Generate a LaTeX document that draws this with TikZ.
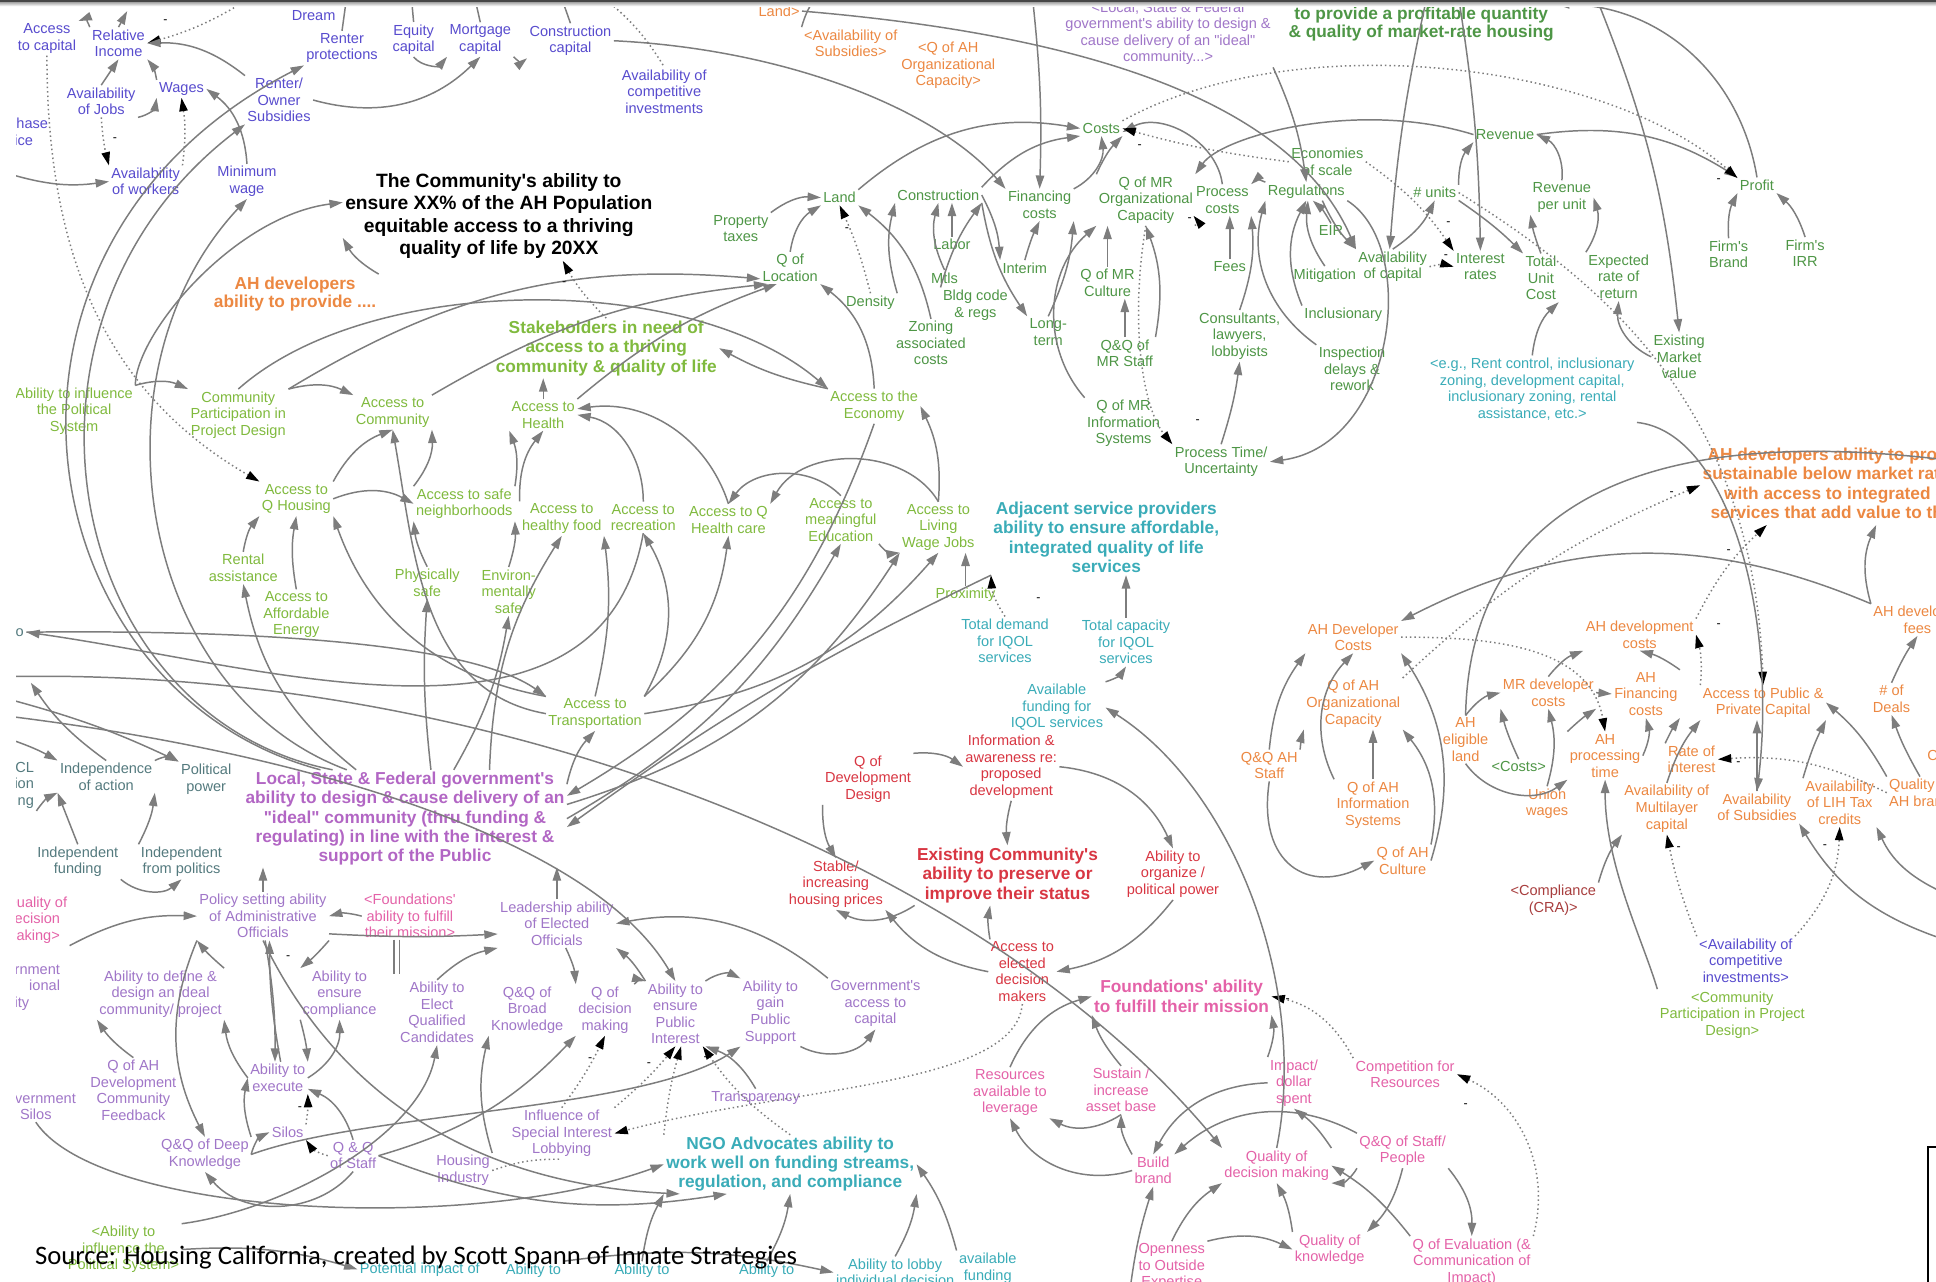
\documentclass[tikz,border=0pt]{standalone}
\usepackage{fontspec}
\setmainfont{Liberation Sans}[Ligatures=TeXOff]
\newfontfamily\srcfont{Carlito}
\usetikzlibrary{arrows.meta}
\definecolor{cblue}{RGB}{88,76,206}
\definecolor{cgreen}{RGB}{78,150,70}
\definecolor{clgreen}{RGB}{128,186,62}
\definecolor{corange}{RGB}{236,136,66}
\definecolor{cteal}{RGB}{58,172,184}
\definecolor{cpurple}{RGB}{178,102,196}
\definecolor{cviolet}{RGB}{160,118,200}
\definecolor{cred}{RGB}{216,54,66}
\definecolor{cpink}{RGB}{228,98,168}
\definecolor{cslate}{RGB}{84,122,126}
\definecolor{cbrown}{RGB}{168,62,62}
\definecolor{cline}{RGB}{125,125,125}
\tikzset{
  lab/.style={align=center, inner sep=0.8pt, font=\fontsize{5.9}{6.7}\selectfont},
  head/.style={align=center, inner sep=0.8pt, font=\bfseries\fontsize{7}{7.9}\selectfont},
  tB/.style={lab, text=cblue}, tG/.style={lab, text=cgreen}, tL/.style={lab, text=clgreen},
  tO/.style={lab, text=corange}, tT/.style={lab, text=cteal}, tV/.style={lab, text=cviolet},
  tR/.style={lab, text=cred}, tP/.style={lab, text=cpink}, tS/.style={lab, text=cslate},
  tBr/.style={lab, text=cbrown},
  hK/.style={align=center, inner sep=0.8pt, font=\bfseries\fontsize{7.8}{9}\selectfont, text=black},
  hG/.style={head, text=cgreen, font=\bfseries\fontsize{7}{7.5}\selectfont},
  hL/.style={head, text=clgreen}, hO/.style={head, text=corange}, hT/.style={head, text=cteal},
  hV/.style={head, text=cpurple}, hR/.style={head, text=cred}, hP/.style={head, text=cpink},
  ar/.style={draw=cline, line width=0.6pt, -{Triangle[length=5.4pt,width=3.4pt]}},
  dar/.style={draw=cline, line width=0.6pt, dash pattern=on 0.6pt off 1.2pt,
              -{Triangle[length=5.4pt,width=3.4pt,color=black,fill=black]}},
  ln/.style={draw=cline, line width=0.6pt},
  dln/.style={draw=cline, line width=0.6pt, dash pattern=on 0.6pt off 1.2pt},
  mn/.style={inner sep=0pt, font=\fontsize{5}{5}\selectfont, text=black},
}
\begin{document}
\begin{tikzpicture}[x=0.5pt,y=-0.5pt]
\useasboundingbox (0,0) rectangle (1568,1038);
\fill[white] (0,0) rectangle (1568,1038);
\begin{scope}
\clip (13,0) rectangle (1568,1038);

% ---------- household economics (blue)
\node[tB] (acc) at (38,31) {Access\\to capital};
\node[tB] (rel) at (96,35) {Relative\\Income};
\node[tB] (dream) at (254,6) {American\\Dream};
\node[tB] (rprot) at (277,39) {Renter\\protections};
\node[tB] (eq) at (335,32) {Equity\\capital};
\node[tB] (mort) at (389,32) {Mortgage\\capital};
\node[tB] (ccap) at (462,33) {Construction\\capital};
\node[tB] (acomp) at (538,74) {Availability of\\competitive\\investments};
\node[tB] (ajobs) at (82,82) {Availability\\of Jobs};
\node[tB] (wages) at (147,72) {Wages};
\node[tB] (rsub) at (226,81) {Renter/\\Owner\\Subsidies};
\node[tB] (hase) at (14,108) {Purchase\\price};
\node[tB] (aw) at (118,147) {Availability\\of workers};
\node[tB] (minw) at (200,147) {Minimum\\wage};

\node[hK] (title) at (404,175) {The Community's ability to\\ensure XX\% of the AH Population\\equitable access to a thriving\\quality of life by 20XX};
\node[hO, font=\bfseries\fontsize{7}{7.5}\selectfont] (ahdp) at (239,238) {AH developers\\ability to provide ....};

% ---------- market-rate development (green)
\node[tG] (land) at (680,160) {Land};
\node[tG] (ptax) at (600,185) {Property\\taxes};
\node[tG] (qloc) at (640,217) {Q of\\Location};
\node[tG] (dens) at (705,245) {Density};
\node[tG] (constr) at (760,158) {Construction};
\node[tG] (labor) at (771,198) {Labor};
\node[tG] (mtls) at (765,225) {Mtls};
\node[tG] (bldg) at (790,247) {Bldg code\\\& regs};
\node[tG] (zon) at (754,278) {Zoning\\associated\\costs};
\node[tG] (fin) at (842,166) {Financing\\costs};
\node[tG] (interim) at (830,217) {Interim};
\node[tG] (longt) at (849,269) {Long-\\term};
\node[tG] (costs) at (892,104) {Costs};
\node[tG] (qmr) at (928,162) {Q of MR\\Organizational\\Capacity};
\node[tG] (qmrc) at (897,229) {Q of MR\\Culture};
\node[tG] (qqmrs) at (911,286) {Q\&Q of\\MR Staff};
\node[tG] (qmri) at (910,343) {Q of MR\\Information\\Systems};
\node[tG] (pcost) at (990,162) {Process\\costs};
\node[tG] (fees) at (996,216) {Fees};
\node[tG] (cons) at (1004,272) {Consultants,\\lawyers,\\lobbyists};
\node[tG] (econs) at (1075,131) {Economies\\of scale};
\node[tG] (reg) at (1058,155) {Regulations};
\node[tG] (eir) at (1078,187) {EIR};
\node[tG] (mitig) at (1073,223) {Mitigation};
\node[tG] (avcap) at (1128,216) {Availability\\of capital};
\node[tG] (incl) at (1088,255) {Inclusionary};
\node[tG] (insp) at (1095,299) {Inspection\\delays \&\\rework};
\node[tG] (ptime) at (989,374) {Process Time/\\Uncertainty};
\node[tG] (units) at (1162,156) {\# units};
\node[tG] (irate) at (1199,216) {Interest\\rates};
\node[tG] (tuc) at (1248,225) {Total\\Unit\\Cost};
\node[tG] (rev) at (1219,109) {Revenue};
\node[tG] (revu) at (1265,160) {Revenue\\per unit};
\node[tG] (err) at (1311,224) {Expected\\rate of\\return};
\node[tG] (profit) at (1423,150) {Profit};
\node[tG] (fbrand) at (1400,206) {Firm's\\Brand};
\node[tG] (firr) at (1462,205) {Firm's\\IRR};
\node[tG] (emv) at (1360,289) {Existing\\Market\\value};
\node[hG] (mrtitle) at (1151,19.5) {to provide a profitable quantity\\\& quality of market-rate housing};
\node[tT] (eg) at (1241,315) {<e.g., Rent control, inclusionary\\zoning, development capital,\\inclusionary zoning, rental\\assistance, etc.>};

\node[tO] (landtag) at (631,9) {Land>};
\node[tO] (avsubtag) at (689,35) {<Availability of\\Subsidies>};
\node[tO] (qahtag) at (768,53) {<Q of AH\\Organizational\\Capacity>};
\node[tV] (lsftag) at (946,27) {<Local, State \& Federal\\government's ability to design \&\\cause delivery of an "ideal"\\community...>};

% ---------- community access (light green)
\node[hL] (stake) at (491,282) {Stakeholders in need of\\access to a thriving\\community \& quality of life};
\node[tL] (abinf) at (60,333) {Ability to influence\\the Political\\System};
\node[tL] (cpp) at (193,336) {Community\\Participation in\\Project Design};
\node[tL] (acom) at (318,334) {Access to\\Community};
\node[tL] (ahealth) at (440,336) {Access to\\Health};
\node[tL] (econ) at (708,329) {Access to the\\Economy};
\node[tL] (aqh) at (240,404) {Access to\\Q Housing};
\node[tL] (asafe) at (376,408) {Access to safe\\neighborhoods};
\node[tL] (afood) at (455,420) {Access to\\healthy food};
\node[tL] (arec) at (521,419) {Access to\\recreation};
\node[tL] (ahc) at (590,421) {Access to Q\\Health care};
\node[tL] (aedu) at (681,421) {Access to\\meaningful\\Education};
\node[tL] (ajob) at (760,427) {Access to\\Living\\Wage Jobs};
\node[tL] (rent) at (197,460) {Rental\\assistance};
\node[tL] (phys) at (346,472) {Physically\\safe};
\node[tL] (env) at (412,479) {Environ-\\mentally\\safe};
\node[tL] (aen) at (240,498) {Access to\\Affordable\\Energy};
\node[tL] (prox) at (782,482) {Proximity};
\node[tL] (atrans) at (482,578) {Access to\\Transportation};
\node[tS] (onode) at (16,512) {o};

% ---------- service providers (teal)
\node[hT] (adj) at (896,435) {Adjacent service providers\\ability to ensure affordable,\\integrated quality of life\\services};
\node[tT] (tdem) at (814,519) {Total demand\\for IQOL\\services};
\node[tT] (tcap) at (912,520) {Total capacity\\for IQOL\\services};
\node[tT] (avf) at (856,573) {Available\\funding for\\IQOL services};
\node[hT, font=\bfseries\fontsize{7}{7.7}\selectfont] (ngo) at (640,943) {NGO Advocates ability to\\work well on funding streams,\\regulation, and compliance};
\node[tT] (lobby) at (725,1030.6) {Ability to lobby\\individual decision};
\node[tT] (avfund) at (800,1027) {available\\funding};
\node[tT] (pot) at (340,1028) {Potential impact of};
\node[tT] (ab1) at (432,1029) {Ability to};
\node[tT] (ab2) at (520,1029) {Ability to};
\node[tT] (ab3) at (621,1029) {Ability to};
\node[tL] (abinftag) at (100,1012) {<Ability to\\influence the\\Political System>};

% ---------- government (violet)
\node[hV, font=\bfseries\fontsize{7}{7.75}\selectfont] (gov) at (328,663) {Local, State \& Federal government's\\ability to design \& cause delivery of an\\"ideal" community (thru funding \&\\regulating) in line with the interest \&\\support of the Public};
\node[tV] (policy) at (213,742) {Policy setting ability\\of Administrative\\Officials};
\node[tP] (foundtag) at (332,742) {<Foundations'\\ability to fulfill\\their mission>};
\node[tV] (lead) at (451,748) {Leadership ability\\of Elected\\Officials};
\node[tV] (define) at (130,805) {Ability to define \&\\design an ideal\\community/ project};
\node[tV] (ensc) at (275,805) {Ability to\\ensure\\compliance};
\node[tV] (elect) at (354,820) {Ability to\\Elect\\Qualified\\Candidates};
\node[tV] (broad) at (427,818) {Q\&Q of\\Broad\\Knowledge};
\node[tV] (qdec) at (490,818) {Q of\\decision\\making};
\node[tV] (epi) at (547,821) {Ability to\\ensure\\Public\\Interest};
\node[tV] (gps) at (624,820) {Ability to\\gain\\Public\\Support};
\node[tV] (gac) at (709,813) {Government's\\access to\\capital};
\node[tV] (qahf) at (108,883) {Q of AH\\Development\\Community\\Feedback};
\node[tV] (exec) at (225,873) {Ability to\\execute};
\node[tV] (deep) at (166,935) {Q\&Q of Deep\\Knowledge};
\node[tV] (silos) at (233,917) {Silos};
\node[tV] (qqs) at (286,936) {Q \& Q\\of Staff};
\node[tV] (hind) at (375,948) {Housing\\Industry};
\node[tV] (influ) at (455,918) {Influence of\\Special Interest\\Lobbying};
\node[tV] (transp) at (612,889) {Transparency};
\node[tP] (qualtag) at (26,745) {<Quality of\\Decision\\making>};
\node[tV, align=right, anchor=east] (govinst) at (50.6,800) {rnment\\ional\hspace*{5pt}\\ity\hspace*{12.5pt}};
\node[tV] (govsilos) at (29,896) {Government\\Silos};

% ---------- independence (slate)
\node[tS, align=right, anchor=east] (cl) at (29.5,636) {CL\\ion\\ng};
\node[tS] (indep) at (86,629) {Independence\\of action};
\node[tS] (polpow) at (167,631) {Political\\power};
\node[tS] (indf) at (63,698) {Independent\\funding};
\node[tS] (indpol) at (147,698) {Independent\\from politics};

% ---------- existing community (red)
\node[tR] (qdd) at (703,631) {Q of\\Development\\Design};
\node[tR] (info) at (819,621) {Information \&\\awareness re:\\proposed\\development};
\node[tR] (stable) at (677,716) {Stable/\\increasing\\housing prices};
\node[hR] (excom) at (816,709) {Existing Community's\\ability to preserve or\\improve their status};
\node[tR] (org) at (950,708) {Ability to\\organize /\\political power};
\node[tR] (accel) at (828,787) {Access to\\elected\\decision\\makers};

% ---------- foundations (pink)
\node[hP] (found) at (957,807) {Foundations' ability\\to fulfill their mission};
\node[tP] (res) at (818,885) {Resources\\available to\\leverage};
\node[tP] (sust) at (908,883) {Sustain /\\increase\\asset base};
\node[tP] (impact) at (1048,877) {Impact/\\dollar\\spent};
\node[tP] (comp) at (1138,870) {Competition for\\Resources};
\node[tP] (brand) at (934,948) {Build\\brand};
\node[tP] (qdm) at (1034,944) {Quality of\\decision making};
\node[tP] (qqsp) at (1136,932) {Q\&Q of Staff/\\People};
\node[tP] (open) at (949,1026) {Openness\\to Outside\\Expertise};
\node[tP] (qk) at (1077,1012) {Quality of\\knowledge};
\node[tP] (qeval) at (1192,1022) {Q of Evaluation (\&\\Communication of\\Impact)};

% ---------- affordable housing developers (orange)
\node[hO, anchor=west, align=left] (ahtitle) at (1377,393) {\hspace*{2pt}AH developers ability to provide\\sustainable below market rate housing\\\hspace*{8.7pt}with access to integrated quality of life\\\hspace*{3.2pt}services that add value to the community};
\node[tO] (ahdc) at (1096,516) {AH Developer\\Costs};
\node[tO] (ahdevc) at (1328,514) {AH development\\costs};
\node[tO] (ahfees) at (1553,502) {AH developer\\fees};
\node[tO] (qahoc) at (1096,570) {Q of AH\\Organizational\\Capacity};
\node[tO] (mrdc) at (1254,561) {MR developer\\costs};
\node[tO] (ahfin) at (1333,562) {AH\\Financing\\costs};
\node[tO] (apc) at (1428,569) {Access to Public \&\\Private Capital};
\node[tO] (deals) at (1532,566) {\# of\\Deals};
\node[tO, anchor=west] (ca) at (1559,612) {Ca};
\node[tO] (ahel) at (1187,599) {AH\\eligible\\land};
\node[tG] (costtag) at (1230,621) {<Costs>};
\node[tO] (qqah) at (1028,620) {Q\&Q AH\\Staff};
\node[tO] (ahpt) at (1300,612) {AH\\processing\\time};
\node[tO] (rate) at (1370,615) {Rate of\\interest};
\node[tO] (union) at (1253,651) {Union\\wages};
\node[tO] (amlc) at (1350,655) {Availability of\\Multilayer\\capital};
\node[tO] (avsub) at (1423,654) {Availability\\of Subsidies};
\node[tO] (lih) at (1490,650) {Availability\\of LIH Tax\\credits};
\node[tO] (qahb) at (1555,642) {Quality of\\AH brand};
\node[tO] (qahis) at (1112,652) {Q of AH\\Information\\Systems};
\node[tO] (qahcul) at (1136,697) {Q of AH\\Culture};
\node[tBr] (cra) at (1258,729) {<Compliance\\(CRA)>};
\node[tB] (acomptag) at (1414,778) {<Availability of\\competitive\\investments>};
\node[tL] (cpptag) at (1403,822) {<Community\\Participation in Project\\Design>};

% ---------- free ends of links that leave the sheet
\coordinate (tdr) at (103,9);
\coordinate (tdt) at (205,-3);
\coordinate (lw) at (8,141);
\coordinate (tfin) at (836,-4);
\coordinate (tav) at (1156,-4);
\coordinate (temv) at (1292,-4);
\coordinate (tir) at (1181,-4);
\coordinate (tsub) at (662,-4);
\coordinate (trp) at (281,-4);
\coordinate (teq) at (333,-4);
\coordinate (tmo) at (384,-4);
\coordinate (tcc) at (454,-4);
\coordinate (tac) at (486,-4);
\coordinate (lf1) at (6,548);
\coordinate (lf2) at (6,598);
\coordinate (lf3) at (6,566);
\coordinate (lf4) at (25,553);
\coordinate (lf5) at (6,580);
\coordinate (rr1) at (1572,760);
\coordinate (rr2) at (1572,722);
\coordinate (rtop) at (1572,372);
\coordinate (bb1) at (915,1046);

% ---------- links: household economics
\draw[ar] (rel.north west) to[bend right=50] (acc.north east);
\draw[ar] (rel.north) -- (tdr);
\draw[dar] (tdt) to[bend left=8] (rel.east);
\draw[ar] (ajobs.north) -- (rel.south);
\draw[ar] (wages.north west) to[bend right=15] (rel.south east);
\draw[ar] (rsub.north west) to[bend right=20] (rel.east);
\draw[ar] (ajobs.south east) to[bend right=35] (wages.south west);
\draw[dar] (ajobs.south) to[bend right=5] (aw.north west);
\draw[dar] (aw.north east) to[bend right=8] (wages.south);
\draw[ar] (minw.north) to[bend right=25] (wages.east);
\draw[ar] (rsub.east) to[bend right=30] (mort.south);
\draw[ar] (eq.south) to[bend right=50] (mort.south west);
\draw[ar] (mort.south east) to[bend right=45] (ccap.south west);
\draw[ar] (lw) to[bend right=12] (aw.west);
\draw[dar] (acc.south) to[out=-90,in=150] (aqh.north west);
\draw[ar] (gov.150) .. controls (20,560) and (-40,200) .. (rprot.south west);
\draw[ar] (gov.146) .. controls (50,580) and (-10,260) .. (rsub.south west);
\draw[ar] (gov.140) .. controls (110,560) and (70,300) .. (minw.south);
\draw[ar] (abinf.north east) .. controls (110,270) and (190,175) .. (title.175);
\draw[ar] (ahdp.north east) to[bend left=15] (title.188);
\draw[ln] (rprot.north) -- (trp);
\draw[ln] (eq.north) -- (teq);
\draw[ln] (mort.north) -- (tmo);
\draw[ln] (ccap.north) -- (tcc);
\draw[dln] (tac) to[bend left=10] (acomp.north);

% ---------- links: market-rate development
\draw[ar] (abinf.north east) to[bend left=20] (cpp.north west);
\draw[ar] (cpp.north east) to[bend left=20] (acom.north west);
\draw[ar] (cpp.north east) to[bend left=18] (qloc.200);
\draw[ar] (cpp.north) .. controls (300,220) and (560,220) .. (econ.north west);
\draw[ar] (acom.north east) to[bend left=12] (qloc.215);
\draw[ar] (ahealth.north) -- (ahealth.north |- stake.south);
\draw[ar] (ahealth.north east) to[bend left=10] (qloc.230);
\draw[dar] (stake.north) to[bend left=8] (title.-35);
\draw[ar] (econ.north west) to[bend left=8] (stake.east);
\draw[ar] (econ.north) to[bend right=25] (qloc.south east);
\draw[ar] (zon.north) to[bend right=20] (land.south east);
\draw[dar] (dens.north) to[bend right=5] (land.south);
\draw[ar] (dens.north east) to[bend left=15] (constr.south west);
\draw[ar] (ptax.north east) to[bend left=20] (land.west);
\draw[ar] (qloc.north) to[bend left=25] (land.south west);
\draw[ar] (labor.north) -- (labor.north |- constr.south);
\draw[ar] (mtls.north) to[bend left=20] (constr.south);
\draw[ar] (bldg.north west) to[bend left=10] (constr.south east);
\draw[ar] (land.north east) to[bend left=25] (costs.west);
\draw[ar] (constr.north east) to[bend left=20] (costs.south west);
\draw[ar] (tfin) to[bend left=4] (fin.north);
\draw[ar] (ccap.east) .. controls (640,40) and (760,90) .. (fin.north west);
\draw[ar] (constr.east) to[bend left=12] (interim.north west);
\draw[ar] (constr.south east) to[bend right=12] (longt.north west);
\draw[ar] (interim.north) to[bend left=5] (fin.south);
\draw[ar] (longt.north) to[bend right=10] (fin.south east);
\draw[ar] (fin.north east) to[bend right=35] (costs.south);
\draw[ar] (qmr.north west) to[bend left=10] (costs.south east);
\draw[ar] (pcost.north) to[bend right=55] (costs.-10);
\draw[dar] (econs.west) to[bend left=4] (costs.east);
\draw[ar] (qmrc.north) -- (qmrc.north |- qmr.south);
\draw[ar] (qqmrs.north east) to[bend right=15] (qmr.south);
\draw[ar] (qqmrs.north) -- (qqmrs.north |- qmrc.south);
\draw[ar] (qmri.north west) to[bend left=45] (qmr.south west);
\draw[dar] (qmr.south east) to[bend right=30] (pcost.south west);
\draw[dar] (qmr.south) .. controls (915,260) and (925,330) .. (ptime.north west);
\draw[ar] (reg.north west) to[bend right=35] (pcost.north east);
\draw[ar] (fees.north) -- (fees.north |- pcost.south);
\draw[ar] (cons.north) to[bend right=12] (pcost.south east);
\draw[ar] (ptime.north) to[bend right=5] (cons.south);
\draw[ar] (reg.south east) .. controls (1150,200) and (1130,360) .. (ptime.east);
\draw[ar] (insp.north west) to[bend left=35] (reg.south west);
\draw[ar] (incl.north west) to[bend left=25] (reg.south);
\draw[ar] (mitig.north) to[bend left=20] (reg.-80);
\draw[ar] (eir.north) to[bend right=10] (reg.-55);
\draw[ar] (reg.-30) to[bend right=10] (avcap.north west);
\draw[ar] (avcap.north) to[bend right=15] (units.south);
\draw[ar] (tav) to[bend right=4] (avcap.100);
\draw[ar] (temv) to[bend left=8] (emv.north);
\draw[ar] (tir) to[bend left=4] (irate.north);
\draw[ar] (profit.north) to[bend right=40] (mrtitle.north east);
\draw[ar] (lsftag.south east) to[bend left=8] (reg.north);
\draw[ar] (units.north east) to[bend left=20] (rev.south west);
\draw[ar] (revu.north) to[bend right=35] (rev.east);
\draw[ar] (rev.east) to[bend left=20] (profit.north west);
\draw[dar] (costs.north east) .. controls (1050,20) and (1300,50) .. (profit.160);
\draw[ar] (tuc.north) to[bend left=5] (revu.south west);
\draw[ar] (err.north west) to[bend right=25] (revu.east);
\draw[ar] (eg.north) to[bend left=20] (tuc.south east);
\draw[ar] (emv.west) to[bend left=35] (err.south);
\draw[ar] (fbrand.north) to[bend left=15] (profit.south west);
\draw[ar] (firr.north) to[bend right=15] (profit.south east);
\draw[ar] (units.south east) to[bend left=5] (tuc.north west);
\draw[dar] (units.east) .. controls (1300,230) and (1420,330) .. (apc.north);
\draw[dar] (econs.east) to[bend left=10] (irate.north west);
\draw[dar] (avcap.east) to[bend left=15] (irate.west);
\draw[ar] (rev.west) .. controls (1100,80) and (990,110) .. (qmr.north east);
\draw[ar] (landtag.east) .. controls (900,30) and (1050,90) .. (avcap.north west);
\draw[ln] (avsubtag.north west) to[bend left=10] (tsub);

% ---------- links: community access
\draw[ar] (aqh.north east) to[bend left=20] (acom.south);
\draw[ar] (aqh.east) to[bend left=25] (asafe.west);
\draw[ar] (rent.north) to[bend left=15] (aqh.south west);
\draw[ar] (aen.north) to[bend left=10] (aqh.south);
\draw[ar] (atrans.north west) to[bend left=30] (aqh.south east);
\draw[ar] (gov.135) to[bend left=20] (rent.south);
\draw[ar] (gov.62) to[bend left=5] (phys.south);
\draw[ar] (gov.45) to[bend right=10] (env.south);
\draw[ar] (gov.30) to[bend left=15] (afood.south);
\draw[ar] (gov.east) to[bend right=15] (aedu.south);
\draw[ar] (gov.5) to[bend right=20] (ajob.south west);
\draw[ar] (adj.south west) to[bend right=5] (gov.-3);
\draw[ar] (econ.south) to[bend left=20] (gov.8);
\draw[ar] (gov.12) to[bend left=15] (atrans.south);
\draw[ar] (asafe.north west) to[bend right=20] (acom.south east);
\draw[ar] (atrans.west) to[out=170,in=-80] (acom.south);
\draw[ar] (phys.north) to[bend left=10] (asafe.south west);
\draw[ar] (env.north) to[bend right=10] (asafe.south east);
\draw[ar] (asafe.north east) to[bend right=15] (ahealth.south west);
\draw[ar] (afood.north west) to[bend left=20] (ahealth.south);
\draw[ar] (arec.north) to[out=90,in=-10] (ahealth.east);
\draw[ar] (ahc.north) to[bend right=40] (ahealth.10);
\draw[ar] (arec.south) to[out=-100,in=-8] (onode.east);
\draw[ar] (onode.east) .. controls (200,510) and (380,520) .. (atrans.north west);
\draw[ar] (atrans.north) to[bend right=10] (afood.south east);
\draw[ar] (atrans.north east) to[bend right=30] (arec.south);
\draw[ar] (atrans.north east) to[bend right=20] (ahc.south);
\draw[ar] (atrans.east) to[bend right=20] (ajob.south);
\draw[ar] (aedu.south east) to[bend right=30] (ajob.south west);
\draw[ar] (prox.north) -- (prox.north |- ajob.south);
\draw[ar] (aedu.north) to[bend right=50] (ahc.north);
\draw[ar] (ajob.north) to[bend right=60] (ahc.north east);
\draw[ar] (ajob.north) to[bend right=15] (econ.east);
\draw[ar] (lf1) .. controls (400,540) and (800,700) .. (qdm.north west);

% ---------- links: government
\draw[ar] (policy.north) -- (policy.north |- gov.south);
\draw[ar] (lead.north) -- (lead.north |- gov.south);
\draw[ar] (foundtag.west) to[bend right=15] (policy.east);
\draw[ar] (qualtag.south east) to[bend left=15] (policy.west);
\draw[ar] (define.north east) to[bend left=5] (policy.south west);
\draw[ar] (policy.south east) to[bend left=5] (ensc.north west);
\draw[ar] (exec.80) to[bend left=5] (policy.-75);
\draw[ar] (policy.-85) to[bend left=5] (exec.100);
\draw[ar] (ensc.south west) to[bend left=5] (exec.north east);
\draw[ar] (exec.east) to[bend right=30] (ensc.south);
\draw[ar] (exec.west) to[bend left=15] (define.south east);
\draw[ar] (qahf.north) to[bend left=10] (define.south west);
\draw[ar] (deep.north east) to[bend left=15] (exec.west);
\draw[ar] (deep.east) to[bend left=25] (silos.west);
\draw[dar] (silos.north east) to[bend right=5] (exec.south east);
\draw[dar] (qqs.west) to[bend left=20] (silos.south east);
\draw[ar] (qqs.north) to[bend right=25] (exec.-20);
\draw[ar] (qqs.south) to[bend left=50] (deep.south);
\draw[ar] (policy.south west) to[bend right=25] (deep.north);
\draw[ar] (policy.-15) to[bend right=3] (lead.190);
\draw[cline, line width=0.6pt] (319,761) -- (319,789) (323.5,761) -- (323.5,789);
\draw[ar] (elect.north) to[bend left=15] (lead.south west);
\draw[ar] (gac.north west) to[bend right=25] (lead.east);
\draw[ar] (epi.north west) to[bend right=10] (lead.south east);
\draw[ar] (lead.-70) to[bend left=10] (qdec.north west);
\draw[ar] (qdec.north east) to[bend left=30] (epi.north west);
\draw[ar] (epi.north east) to[bend left=30] (gps.north west);
\draw[ar] (gps.south east) to[bend right=40] (gac.south);
\draw[ar] (lf5) .. controls (250,610) and (480,680) .. (epi.north);
\draw[ar] (transp.north) to[bend right=20] (epi.south east);
\draw[dar] (influ.north) to[bend right=5] (qdec.south);
\draw[dar] (influ.north east) to[bend right=5] (epi.south);
\draw[dar] (ngo.north west) to[bend left=5] (epi.-80);
\draw[dar] (ngo.north) to[bend left=10] (epi.-50);
\draw[dln] (hind.east) to[bend left=10] (influ.south);
\draw[dar] (accel.south) .. controls (822,880) and (640,880) .. (influ.east);
\draw[ar] (hind.north east) to[bend left=15] (broad.south west);
\draw[ar] (qqs.east) to[bend right=15] (qdec.south west);
\draw[ar] (deep.east) .. controls (300,900) and (520,900) .. (gps.south west);
\draw[ar] (abinftag.north east) .. controls (230,980) and (340,920) .. (elect.south);
\draw[ar] (abinftag.east) to[bend left=10] (pot.west);
\draw[ar] (govsilos.south) .. controls (80,985) and (380,1000) .. (ngo.west);
\draw[ar] (policy.south) .. controls (280,900) and (400,960) .. (ngo.195);
\draw[ar] (qqs.east) to[bend right=15] (ngo.205);
\draw[ar] (lobby.north) to[bend right=10] (ngo.south east);
\draw[ar] (avfund.north west) to[bend right=10] (ngo.east);
\draw[ar] (ab2.north) to[bend left=10] (ngo.south west);
\draw[ar] (ab3.north) to[bend right=10] (ngo.south);
\draw[ar] (ab1.north east) to[bend left=10] (lobby.west);

% ---------- links: independence
\draw[ar] (indf.north) -- (indep.south west);
\draw[ar] (indpol.north west) to[bend right=10] (indep.south east);
\draw[ar] (indf.south east) to[bend right=40] (indpol.south);
\draw[ar] (indep.north east) to[bend left=30] (polpow.north west);
\draw[ar] (lf2) to[bend left=5] (indep.north west);
\draw[ar] (lf3) to[bend left=5] (polpow.north west);
\draw[ar] (indep.north) to[bend left=10] (lf4);
\draw[ar] (cl.south east) to[bend left=15] (indep.south west);

% ---------- links: existing community
\draw[ar] (qdd.north east) to[bend left=20] (info.west);
\draw[ar] (qdd.south west) to[bend right=15] (stable.north);
\draw[ar] (info.south) to[bend right=10] (excom.north);
\draw[ar] (info.east) to[bend left=30] (org.north);
\draw[ar] (accel.135) to[bend left=10] (excom.-120);
\draw[ar] (org.south) to[bend left=20] (accel.east);
\draw[ar] (accel.west) to[bend left=20] (stable.south east);
\draw[ar] (excom.south west) to[bend left=30] (stable.south);

% ---------- links: foundations
\draw[ar] (res.north) to[bend left=25] (found.west);
\draw[ar] (sust.north) to[bend left=10] (found.south west);
\draw[ar] (impact.north west) to[bend right=15] (found.south east);
\draw[dar] (comp.north west) to[bend right=25] (found.east);
\draw[ar] (brand.west) to[bend left=40] (res.south);
\draw[ar] (sust.south) to[bend left=30] (res.south east);
\draw[ar] (brand.north west) to[bend left=15] (sust.south);
\draw[ar] (impact.west) to[bend right=30] (brand.north);
\draw[ar] (qqsp.north west) to[bend right=35] (brand.north east);
\draw[ar] (qdm.north east) to[bend right=10] (impact.south);
\draw[ar] (qqsp.south west) to[bend left=30] (qdm.south east);
\draw[ar] (qeval.north west) to[bend right=10] (qdm.east);
\draw[ar] (qqsp.south) to[bend left=15] (qk.north east);
\draw[ar] (qqsp.south east) to[bend left=20] (qeval.north);
\draw[dar] (qeval.north east) to[bend right=40] (comp.east);
\draw[ar] (qk.north west) to[bend right=10] (qdm.south);
\draw[ar] (open.north) to[bend left=15] (qdm.south west);
\draw[ar] (open.north east) to[bend left=20] (qk.west);
\draw[ar] (bb1) to[bend left=5] (brand.south);
\draw[ar] (qdm.north) .. controls (1060,800) and (1000,640) .. (avf.east);

% ---------- links: service providers
\draw[dar] (tdem.north) to[bend left=15] (adj.south west);
\draw[ar] (tcap.north) -- (tcap.north |- adj.south);
\draw[ar] (avf.north east) to[bend right=20] (tcap.south);

% ---------- links: affordable housing developers
\draw[ar] (qqah.south) .. controls (1018,700) and (1060,725) .. (qahcul.west);
\draw[ar] (qqah.north) to[bend left=15] (ahdc.south west);
\draw[ar] (qqah.north east) to[bend left=5] (qahoc.south west);
\draw[ar] (qahis.north west) to[bend left=35] (ahdc.south);
\draw[ar] (qahis.north) -- (qahis.north |- qahoc.south);
\draw[ar] (qahcul.north east) to[bend right=25] (qahoc.south east);
\draw[ar] (qahcul.east) to[bend right=25] (ahdc.south east);
\draw[ar] (ahfees.north west) to[bend right=25] (ahdc.north east);
\draw[dar] (qahoc.north east) to[bend left=10] (ahtitle.west);
\draw[ln] (ahel.north) .. controls (1190,430) and (1300,340) .. (rtop);
\draw[dar] (apc.north west) to[bend right=10] (ahdevc.east);
\draw[dar] (ahdevc.north east) to[bend left=10] (ahtitle.-160);
\draw[ar] (mrdc.north) to[bend left=15] (ahdevc.south west);
\draw[ar] (mrdc.east) -- (ahfin.west);
\draw[ar] (ahel.north) to[bend left=20] (mrdc.west);
\draw[ar] (costtag.north) to[bend left=5] (mrdc.south west);
\draw[ar] (union.north) to[bend right=15] (mrdc.south);
\draw[ar] (ahpt.north west) to[bend left=5] (mrdc.south east);
\draw[dar] (ahdc.east) to[out=0,in=100] (ahpt.north);
\draw[ar] (ahpt.east) to[bend right=20] (ahfin.south);
\draw[ar] (rate.north west) to[bend left=5] (ahfin.south east);
\draw[ar] (ahfin.north east) to[bend right=10] (ahdevc.south);
\draw[ar] (amlc.north) to[bend left=10] (apc.south west);
\draw[ar] (avsub.north) -- (avsub.north |- apc.south);
\draw[ar] (lih.north west) to[bend left=5] (apc.south east);
\draw[ar] (qahb.north west) to[bend right=10] (apc.east);
\draw[ar] (qahb.north) to[bend left=5] (deals.south);
\draw[ar] (deals.north) to[bend left=5] (ahfees.south);
\draw[ar] (ahfees.north west) to[bend left=20] (ahtitle.south);
\draw[dar] (qahb.west) to[bend right=15] (rate.east);
\draw[ar] (ahel.south) to[bend right=45] (ahpt.south west);
\draw[ar] (cpptag.north west) .. controls (1330,760) and (1300,700) .. (ahpt.south);
\draw[ar] (cra.north east) to[bend left=10] (amlc.south west);
\draw[dar] (acomptag.north west) to[bend left=5] (amlc.south);
\draw[dar] (acomptag.north east) to[bend right=20] (lih.south);
\draw[ar] (rr1) to[bend left=20] (avsub.south east);
\draw[ar] (rr2) to[bend left=20] (lih.south east);
\draw[ar] (eg.south east) .. controls (1400,350) and (1440,500) .. (avsub.north);

% ---------- polarity marks
\node[mn] (m1) at (134,17.5) {-};
\node[mn] (m2) at (93,113) {-};
\node[mn] (m3) at (686,186) {-};
\node[mn] (m4) at (457,229.5) {-};
\node[mn] (m5) at (923,119) {-};
\node[mn] (m6) at (963.5,178) {-};
\node[mn] (m7) at (1173,181) {-};
\node[mn] (m8) at (1171,208) {-};
\node[mn] (m9) at (1392,146) {-};
\node[mn] (m10) at (970,341.5) {-};
\node[mn] (m11) at (841,486) {-};
\node[mn] (m12) at (1043,810.5) {-};
\node[mn] (m13) at (1187,895.6) {-};
\node[mn] (m14) at (243,898) {-};
\node[mn] (m15) at (254,932) {-};
\node[mn] (m16) at (233.5,775.4) {-};
\node[mn] (m17) at (478,858) {-};
\node[mn] (m18) at (525.6,862) {-};
\node[mn] (m19) at (571.5,857.7) {-};
\node[mn] (m20) at (1354,400) {-};
\node[mn] (m21) at (1400,447) {-};
\node[mn] (m22) at (1392,506.5) {-};
\node[mn] (m23) at (1408,618.5) {-};
\node[mn] (m24) at (1359.6,687.3) {-};
\node[mn] (m25) at (1478,686) {-};
\end{scope}

% ---------- sheet edge shadow and frame corner
\fill[black!72] (0,0) rectangle (1568,2.2);
\shade[top color=black!30, bottom color=white] (0,2.2) rectangle (1568,5);
\draw[black, line width=0.8pt] (1561.5,1040) -- (1561.5,929.3) -- (1570,929.3);

% ---------- credit line
\node[anchor=base west, inner sep=0pt, font=\srcfont\fontsize{10.8}{12}\selectfont, text=black] (src) at (28,1024) {Source: Housing California, created by Scott Spann of Innate Strategies};
\end{tikzpicture}
\end{document}
